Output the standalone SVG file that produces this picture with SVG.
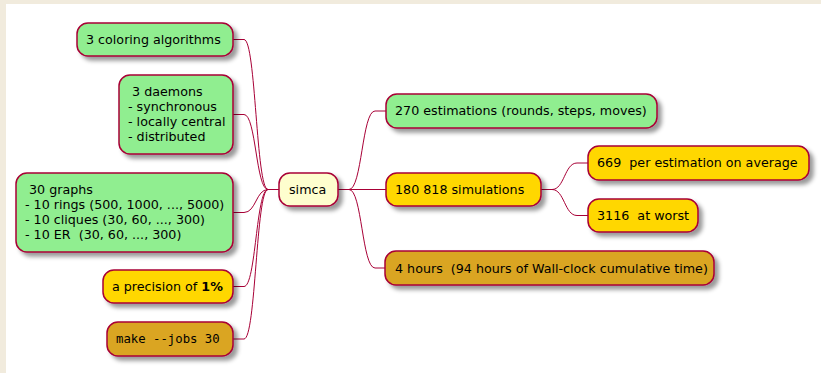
<svg xmlns="http://www.w3.org/2000/svg" width="821" height="373" viewBox="0 0 821 373">
  <defs>
    <filter id="shadow" x="-20%" y="-30%" width="150%" height="180%">
      <feGaussianBlur in="SourceAlpha" stdDeviation="2"/>
      <feOffset dx="4" dy="4" result="b"/>
      <feFlood flood-color="#000" flood-opacity="0.4"/>
      <feComposite in2="b" operator="in" result="s"/>
      <feMerge><feMergeNode in="s"/><feMergeNode in="SourceGraphic"/></feMerge>
    </filter>
  </defs>
  <style>
    .box { stroke: #A80036; stroke-width: 1.5; filter: url(#shadow); }
    .root { fill: #FEFECE; }
    .green { fill: #90EE90; }
    .gold { fill: #FFD700; }
    .goldenrod { fill: #DAA520; }
    text { font-family: "DejaVu Sans", Verdana, sans-serif; font-size: 12.7px; fill: #000; }
    text.mono { font-family: "DejaVu Sans Mono", monospace; font-size: 12.3px; }
    .link { fill: none; stroke: #A80036; stroke-width: 1; }
  </style>

  <!-- page background -->
  <rect x="0" y="0" width="821" height="373" fill="#F1EBDD"/>
  <rect x="6" y="4" width="815" height="369" fill="#FFFFFF"/>

  <!-- connectors -->
  <g id="links">
    <path class="link" d="M233,39.5 H244 C256,39.5 256,189.5 268,189.5 H279"/>
    <path class="link" d="M233,114.5 H244 C256,114.5 256,189.5 268,189.5"/>
    <path class="link" d="M233,212.5 H244 C256,212.5 256,189.5 268,189.5"/>
    <path class="link" d="M233,286.5 H244 C256,286.5 256,189.5 268,189.5"/>
    <path class="link" d="M233,339 H244 C256,339 256,189.5 268,189.5"/>
    <path class="link" d="M338,189.5 H349 C362,189.5 362,111 375,111 H386"/>
    <path class="link" d="M349,189.5 H386"/>
    <path class="link" d="M349,189.5 C362,189.5 362,268 375,268 H385"/>
    <path class="link" d="M541,189.5 H552 C564.5,189.5 564.5,163 577,163 H588"/>
    <path class="link" d="M552,189.5 C564.5,189.5 564.5,215.5 577,215.5 H588"/>
  </g>

  <!-- root -->
  <g id="simca">
    <rect class="box root" x="279" y="173" width="59" height="33" rx="11"/>
    <text x="289" y="194">simca</text>
  </g>

  <!-- left branch -->
  <g id="coloring">
    <rect class="box green" x="77" y="23" width="156" height="33" rx="11"/>
    <text x="86" y="44">3 coloring algorithms</text>
  </g>
  <g id="daemons">
    <rect class="box green" x="119" y="75" width="114" height="79" rx="11"/>
    <text x="128" y="96" xml:space="preserve"> 3 daemons</text>
    <text x="128" y="111">- synchronous</text>
    <text x="128" y="126">- locally central</text>
    <text x="128" y="141">- distributed</text>
  </g>
  <g id="graphs">
    <rect class="box green" x="16" y="173" width="217" height="79" rx="11"/>
    <text x="25" y="194" xml:space="preserve"> 30 graphs</text>
    <text x="25" y="209">- 10 rings (500, 1000, ..., 5000)</text>
    <text x="25" y="224">- 10 cliques (30, 60, ..., 300)</text>
    <text x="25" y="239" xml:space="preserve">- 10 ER  (30, 60, ..., 300)</text>
  </g>
  <g id="precision">
    <rect class="box gold" x="103" y="270" width="130" height="33" rx="11"/>
    <text x="112" y="291" xml:space="preserve">a precision of <tspan font-weight="bold">1%</tspan></text>
  </g>
  <g id="make">
    <rect class="box goldenrod" x="107" y="322" width="126" height="34" rx="11"/>
    <text class="mono" x="116" y="343">make --jobs 30</text>
  </g>

  <!-- right branch -->
  <g id="estimations">
    <rect class="box green" x="386" y="94" width="271" height="34" rx="11"/>
    <text x="395" y="115">270 estimations (rounds, steps, moves)</text>
  </g>
  <g id="simulations">
    <rect class="box gold" x="386" y="173" width="155" height="33" rx="11"/>
    <text x="395" y="194">180 818 simulations</text>
  </g>
  <g id="hours">
    <rect class="box goldenrod" x="385" y="251" width="329" height="34" rx="11"/>
    <text x="395" y="273" xml:space="preserve">4 hours  (94 hours of Wall-clock cumulative time)</text>
  </g>
  <g id="average">
    <rect class="box gold" x="588" y="146" width="221" height="34" rx="11"/>
    <text x="597" y="167" xml:space="preserve">669  per estimation on average</text>
  </g>
  <g id="worst">
    <rect class="box gold" x="588" y="199" width="110" height="33" rx="11"/>
    <text x="597" y="220" xml:space="preserve">3116  at worst</text>
  </g>
</svg>
